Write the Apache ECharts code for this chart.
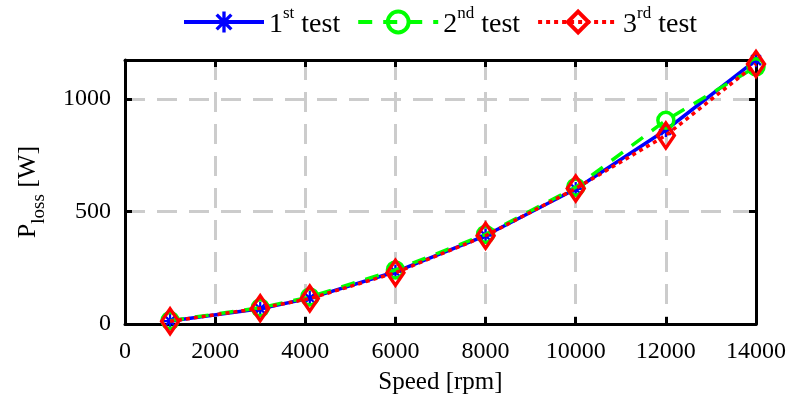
<!DOCTYPE html>
<html><head><meta charset="utf-8">
<script src="https://cdn.jsdelivr.net/npm/echarts@6/dist/echarts.min.js"></script>
<style>html,body{margin:0;padding:0;background:#fff}#c{width:789px;height:403px}</style>
</head><body><div id="c"></div>
<script>
const speeds = [1000, 3000, 4100, 6000, 8000, 10000, 12000, 14000];
const test1 = [13, 68, 115, 232, 393, 600, 862, 1172];
const test2 = [15, 72, 120, 240, 398, 608, 905, 1143];
const test3 = [12, 70, 113, 228, 392, 602, 838, 1155];
const xTicks = [0, 2000, 4000, 6000, 8000, 10000, 12000, 14000];
const yTicks = [0, 500, 1000];
const seriesNames = ['1st test', '2nd test', '3rd test'];

const FONT = '"Liberation Serif", "DejaVu Serif", serif';
const asterisk = 'path://M-1.6,-10L1.6,-10L1.6,10L-1.6,10Z M-10,-1.6L10,-1.6L10,1.6L-10,1.6Z M-8.2,-5.9L-5.9,-8.2L8.2,5.9L5.9,8.2Z M5.9,-8.2L8.2,-5.9L-5.9,8.2L-8.2,5.9Z';

function pairs(ys) { return speeds.map((s, i) => [s, ys[i]]); }

const chart = echarts.init(document.getElementById('c'), null, {renderer: 'canvas'});
const axisCommon = {
  axisLine: {show: true, onZero: false, lineStyle: {color: '#000', width: 3}},
  axisTick: {show: true, inside: true, length: 7, lineStyle: {color: '#000', width: 3}},
};
const gridLine = {show: true, lineStyle: {color: '#cccccc', width: 3, type: [20, 12]}};
chart.setOption({
  animation: false,
  backgroundColor: '#fff',
  legend: {
    top: 0, left: 177,
    itemWidth: 80, itemHeight: 26, itemGap: 16,
    data: seriesNames,
    lineStyle: {width: 4},
    itemStyle: {borderWidth: 4},
    formatter: function (n) {
      const m = n.match(/^(\d)(\w+) (.*)$/);
      return '{n|' + m[1] + '}{s|' + m[2] + '}{n| ' + m[3] + '}';
    },
    textStyle: {
      fontFamily: FONT, fontSize: 28, color: '#000',
      rich: {
        n: {fontFamily: FONT, fontSize: 28, color: '#000', lineHeight: 34, verticalAlign: 'bottom'},
        s: {fontFamily: FONT, fontSize: 17, color: '#000', lineHeight: 34, verticalAlign: 'top'}
      }
    }
  },
  grid: {left: 125, right: 33, top: 60, bottom: 79, containLabel: false},
  xAxis: [
    Object.assign({}, axisCommon, {
      type: 'value', min: 0, max: 14000, interval: 2000, position: 'bottom',
      name: 'Speed [rpm]', nameLocation: 'middle', nameGap: 46,
      nameTextStyle: {fontFamily: FONT, fontSize: 25, color: '#000'},
      axisLabel: {fontFamily: FONT, fontSize: 24, color: '#000', margin: 16,
        formatter: v => xTicks.includes(v) ? String(v) : ''},
      splitLine: gridLine
    }),
    Object.assign({}, axisCommon, {
      type: 'value', min: 0, max: 14000, interval: 2000, position: 'top',
      axisLabel: {show: false}, splitLine: {show: false}
    })
  ],
  yAxis: [
    Object.assign({}, axisCommon, {
      type: 'value', min: 0, max: 1173, interval: 500, position: 'left',
      name: '{n|P}{b|loss}{n| [W]}', nameLocation: 'middle', nameGap: 76, nameRotate: 90,
      nameTextStyle: {fontFamily: FONT, fontSize: 26, color: '#000',
        rich: {
          n: {fontFamily: FONT, fontSize: 26, color: '#000', lineHeight: 34, verticalAlign: 'top'},
          b: {fontFamily: FONT, fontSize: 19, color: '#000', lineHeight: 34, verticalAlign: 'bottom'}
        }},
      axisLabel: {fontFamily: FONT, fontSize: 24, color: '#000', margin: 14, showMaxLabel: false,
        formatter: v => yTicks.includes(v) ? String(v) : ''},
      splitLine: gridLine
    }),
    Object.assign({}, axisCommon, {
      type: 'value', min: 0, max: 1173, interval: 500, position: 'right',
      axisLabel: {show: false}, splitLine: {show: false}
    })
  ],
  series: [
    {
      name: seriesNames[0], type: 'line', data: pairs(test1), z: 3,
      symbol: asterisk, symbolSize: 14, showAllSymbol: true,
      lineStyle: {color: '#0000ff', width: 3.5, type: 'solid'},
      itemStyle: {color: '#0000ff', borderWidth: 0}
    },
    {
      name: seriesNames[1], type: 'line', data: pairs(test2), z: 4,
      symbol: 'circle', symbolSize: 16,
      lineStyle: {color: '#00ff00', width: 3.5, type: [14, 11]},
      itemStyle: {color: 'rgba(255,255,255,0)', borderColor: '#00ff00', borderWidth: 3.5}
    },
    {
      name: seriesNames[2], type: 'line', data: pairs(test3), z: 5,
      symbol: 'diamond', symbolSize: [17, 25],
      lineStyle: {color: '#ff0000', width: 3.5, type: [4, 4]},
      itemStyle: {color: 'rgba(255,255,255,0)', borderColor: '#ff0000', borderWidth: 3.5}
    }
  ]
});
</script>
</body></html>
